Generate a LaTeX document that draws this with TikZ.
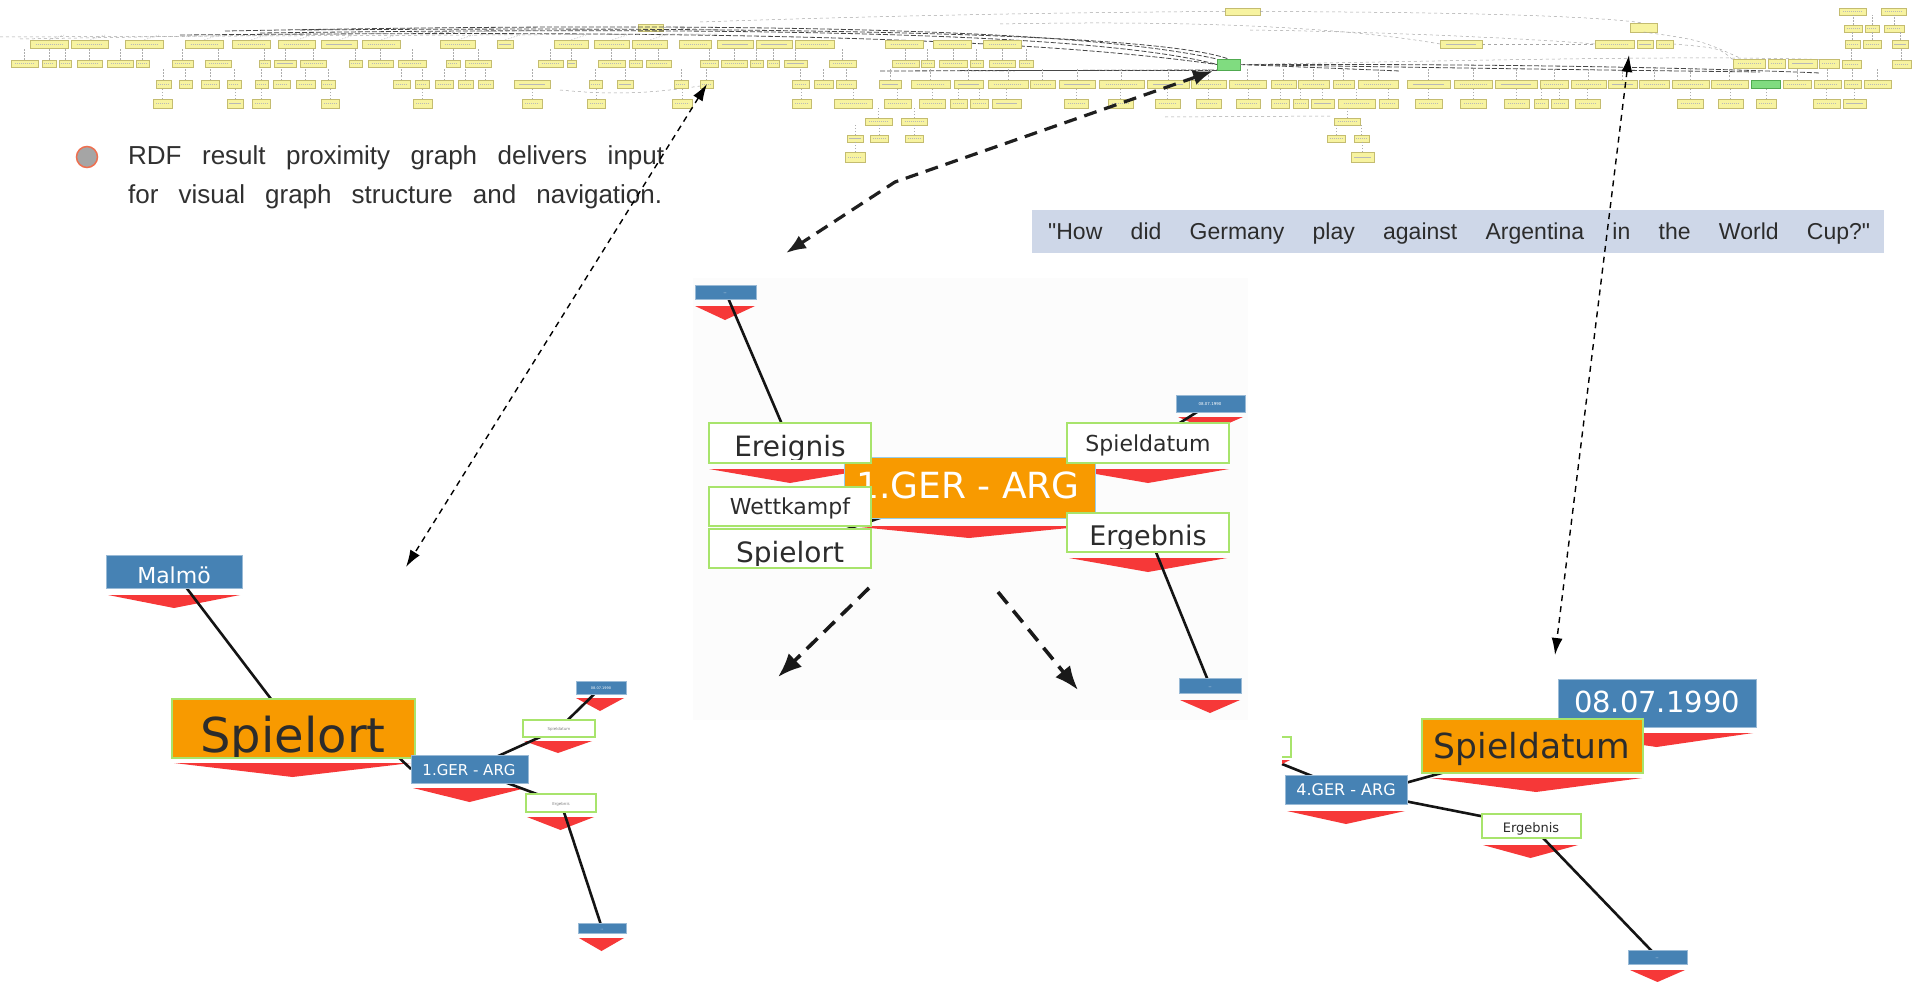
\documentclass[tikz,border=0pt]{standalone}
\usepackage{fontspec}
\setmainfont{Liberation Sans}
\newfontfamily\plainsans{Liberation Sans}
\newfontfamily\dvs{DejaVu Sans}
\usetikzlibrary{arrows.meta,calc}

\definecolor{nodeblue}{RGB}{70,130,180}
\definecolor{chevred}{RGB}{246,56,56}
\definecolor{nodeorange}{RGB}{248,154,0}
\definecolor{lgreen}{RGB}{168,228,108}
\definecolor{cyanedge}{RGB}{150,205,235}
\definecolor{qfill}{RGB}{206,215,232}
\definecolor{txt}{RGB}{44,44,44}
\definecolor{bodytxt}{RGB}{48,48,48}
\definecolor{gyel}{RGB}{247,243,160}
\definecolor{gyelb}{RGB}{196,188,112}
\definecolor{ggreen}{RGB}{128,220,128}
\definecolor{ggreenb}{RGB}{80,170,80}
\definecolor{bulletgray}{RGB}{165,165,165}
\definecolor{bulletred}{RGB}{238,112,80}
\definecolor{panel}{RGB}{252,252,252}

\pgfdeclarelayer{bg}\pgfdeclarelayer{chev}\pgfdeclarelayer{edges}
\pgfsetlayers{bg,chev,edges,main}

\tikzset{
  gbox/.style={fill=gyel, draw=gyelb, line width=0.5pt},
  gtext/.style={draw=black!28, line width=0.7pt, dash pattern=on 1.2pt off 0.8pt},
  gedge/.style={draw=black!32, line width=0.4pt, dash pattern=on 1.5pt off 1.5pt},
  gbund/.style={draw=black!72, line width=0.8pt, dash pattern=on 5pt off 2pt},
  gthin/.style={draw=black!35, line width=0.5pt, dash pattern=on 3pt off 3pt},
  plainbox/.style={inner sep=0pt, outer sep=0pt},
  bluebox/.style={plainbox, fill=nodeblue, draw=nodeblue!55!white, line width=0.7pt},
  whitebox/.style={plainbox, fill=white, draw=lgreen, line width=1.6pt},
  smallwhite/.style={plainbox, fill=white, draw=lgreen, line width=1.3pt},
  orangebox/.style={plainbox, fill=nodeorange, draw=lgreen, line width=1.3pt},
  centerbox/.style={plainbox, fill=nodeorange, draw=cyanedge, line width=0.8pt},
  greenbox/.style={plainbox, fill=ggreen, draw=ggreenb, line width=0.5pt},
  yelbox/.style={plainbox, fill=gyel, draw=gyelb, line width=0.5pt},
  link/.style={draw=black!92, line width=2.6pt},
  lbl/.style={inner sep=0pt, anchor=base},
  thinarrow/.style={{Latex[length=17pt,width=11pt]}-{Latex[length=17pt,width=11pt]},
    line width=1.4pt, dash pattern=on 6pt off 5pt},
  midarrow/.style={{Latex[length=20pt,width=15pt]}-{Latex[length=20pt,width=15pt]},
    line width=3.2pt, dash pattern=on 13pt off 8pt, draw=black!88},
  bigarrow/.style={-{Latex[length=24pt,width=19pt]},
    line width=3.6pt, dash pattern=on 15pt off 9pt, draw=black!90},
}

% box with corners (x1,y1) and (x2,y2)
\newcommand\mkbox[6]{%
  \pgfmathsetmacro\bxw{#4-#2}\pgfmathsetmacro\bxh{#5-#3}%
  \node[#6, minimum width=\bxw pt, minimum height=\bxh pt, anchor=north west] (#1) at (#2,#3) {};}
% red pointer under a box
\newcommand\chev[4]{\begin{pgfonlayer}{chev}\fill[chevred] (#1,#3) -- (#2,#3) -- ({(#1+#2)/2},#4) -- cycle;\end{pgfonlayer}}
% label whose descenders are cut off at a given height
\newcommand\btext[6]{\begin{scope}\clip (#2-400,#3-120) rectangle (#2+400,#4);
  \node[lbl, font=#5] (#1) at (#2,#3) {#6};\end{scope}}
% thumbnail box of the overview graph
\newcommand\gb[4]{\draw[gbox] (#1,#3) rectangle (#2,#4);
  \draw[gtext] ({#1+0.15*(#2-#1)},{(#3+#4)/2}) -- ({#2-0.15*(#2-#1)},{(#3+#4)/2});}
% one row of thumbnail boxes with a short link upwards
\newcommand\grrow[4]{\foreach \a/\b in {#4}{%
  \ifdim #3pt>0pt \draw[gedge] ({(\a+\b)/2},#1) -- ++(0,-#3);\fi
  \gb{\a}{\b}{#1}{#2}}}

\begin{document}
\begin{tikzpicture}[x=1pt,y=-1pt]
\useasboundingbox (0,0) rectangle (1927,982);
\begin{pgfonlayer}{bg}
  \fill[white] (0,0) rectangle (1927,982);
  \fill[panel] (693,278) rectangle (1248,720);
\end{pgfonlayer}

%% ---------------- overview graph ----------------
\mkbox{gtop}{1225}{8}{1260}{15}{yelbox}
\mkbox{gres}{1217}{59}{1240}{70}{greenbox}
\mkbox{ghub}{638}{24}{663}{31}{yelbox}
\mkbox{gside}{1630}{23}{1657}{32}{yelbox}

\draw[gbund] (225,31) .. controls (600,24) and (1050,22) .. (gres.north west);
\draw[gbund] (260,33) .. controls (650,28) and (1080,28) .. (gres.west);
\draw[gbund] (180,35) .. controls (640,31) and (1000,34) .. (gres.west);
\draw[gbund] (300,30) .. controls (700,27) and (1150,30) .. (gres.north);
\draw[gthin] (0,37) -- (720,34);
\draw[gthin] (20,39) .. controls (300,34) and (500,33) .. (ghub.west);
\draw[gbund] (880,71) -- (gres.south west);
\draw[gbund] (960,70) -- (gres.south west);
\draw[gbund] (gres.east) .. controls (1450,64) and (1650,66) .. (1820,73);
\draw[gbund] (gres.east) .. controls (1450,68) and (1600,70) .. (1760,72);
\draw[gbund] (gres.east) .. controls (1320,68) .. (1400,71);
\draw[gthin] (gres.east) .. controls (1500,60) and (1700,55) .. (1835,60);
\draw[gthin] (700,22) .. controls (900,15) and (1100,12) .. (gtop.west);
\draw[gthin] (gtop.east) .. controls (1400,12) and (1580,14) .. (gside.north);
\draw[gthin] (1000,24) .. controls (1200,20) and (1350,28) .. (1440,44);
\draw[gthin] (1250,30) .. controls (1400,32) and (1550,40) .. (1595,44);
\draw[gthin] (1482,44) -- (1595,44);
\draw[gthin] (1673,44) .. controls (1720,48) .. (1733,60);
\draw[gthin] (gside.south) .. controls (1700,40) .. (1740,58);
\draw[gthin] (ghub.east) -- (720,30);
\draw[gthin] (1165,117) -- (1330,116);
\draw[gthin] (560,90) .. controls (620,96) and (660,92) .. (700,86);
\foreach \x in {49,90,144,204,251,297,339,381,458,505,571,612,650}
  \draw[gedge] (\x,40) -- (\x+15,35);

\grrow{40}{48}{0}{30/68,71/108,125/163,185/223,232/270,278/315,321/357,362/400,440/475,497/513,554/588,594/629,632/667,679/711,717/753,756/792,795/834,885/923,933/971,983/1021,1440/1482,1595/1634,1637/1653,1656/1673}
\grrow{60}{67}{12}{11/38,42/56,59/71,77/102,107/133,136/149,172/193,205/231,259/270,274/296,300/326,349/362,368/393,398/426,446/460,465/491,538/563,567/576,598/625,629/642,646/671,700/718,721/747,750/763,767/779,784/807,829/856,892/919,921/934,939/967,970/983,989/1015,1019/1033}
\grrow{59}{68}{0}{1733/1765,1768/1785,1788/1817,1819/1839}
\grrow{80}{88}{12}{156/171,179/192,201/219,227/241,255/268,273/290,296/315,321/335,393/410,415/429,435/453,458/473,478/493,514/550,589/602,617/633,674/688,700/713,792/809,814/833,836/856,879/901,911/950,954/983,988/1028,1030/1055,1059/1095,1099/1144,1147/1189,1191/1226,1229/1266,1271/1296,1298/1329,1333/1354,1358/1398,1407/1450,1454/1492,1495/1537,1540/1568,1571/1606,1608/1637,1639/1669,1672/1709,1711/1748,1783/1811,1814/1841,1844/1861,1864/1891}
\mkbox{gres2}{1751}{80}{1780}{88}{greenbox}
\grrow{99}{108}{11}{153/172,227/243,252/270,321/339,413/432,522/542,587/605,672/692,792/811,834/872,884/911,919/945,950/967,970/988,992/1021,1064/1088,1108/1133,1155/1180,1196/1221,1236/1260,1271/1289,1293/1308,1311/1334,1338/1375,1379/1398,1415/1442,1460/1486,1504/1529,1534/1548,1551/1568,1575/1600,1677/1703,1718/1743,1756/1776,1813/1840,1843/1866}
\grrow{118}{125}{10}{865/892,901/927,1334/1360}
\grrow{135}{142}{10}{847/863,870/888,905/923,1327/1345,1354/1369}
\grrow{152}{162}{10}{845/865,1351/1374}
\grrow{8}{15}{0}{1839/1866,1881/1906}
\grrow{25}{32}{10}{1844/1862,1865/1879,1884/1904}
\grrow{40}{48}{8}{1845/1860,1863/1881,1892/1908}
\grrow{60}{68}{12}{1842/1861,1892/1911}

%% ---------------- caption and question ----------------
\node[circle, fill=bulletgray, draw=bulletred, line width=1.5pt, minimum size=21pt, inner sep=0pt] (bullet) at (87,157) {};
\node[inner sep=0pt, anchor=base west, text=bodytxt, font=\fontsize{26}{30}\selectfont] (line1) at (128,164)
  {\makebox[536pt][s]{RDF result proximity graph delivers input}};
\node[inner sep=0pt, anchor=base west, text=bodytxt, font=\fontsize{26}{30}\selectfont] (line2) at (128,203)
  {\makebox[534pt][s]{for visual graph structure and navigation.}};

\mkbox{qbox}{1032}{210}{1884}{253}{plainbox, fill=qfill}
\node[inner sep=0pt, anchor=base west, text=txt, font=\plainsans\fontsize{23}{27}\selectfont] (qtext) at (1048,239)
  {\makebox[822pt][s]{"How did Germany play against Argentina in the World Cup?"}};

%% ---------------- central cluster ----------------
\mkbox{cger}{844}{457}{1095}{518}{centerbox}
\chev{850}{1088}{526}{538}
\node[lbl, text=white, font={\dvs\fontsize{36}{40}\selectfont}] (cger-t) at (968,498) {1.GER - ARG};

\mkbox{ctop}{695}{285}{756}{299}{bluebox}
\chev{695}{755}{306}{320}
\node[lbl, text=white, font={\dvs\fontsize{4}{5}\selectfont}] (ctop-t) at (725,294) {--};
\mkbox{cdate}{1176}{395}{1245}{412}{bluebox}
\chev{1178}{1243}{417}{431}
\node[lbl, text=white, font={\dvs\fontsize{4}{5}\selectfont}] (cdate-t) at (1210,405) {08.07.1990};

\mkbox{cereig}{709}{423}{871}{463}{whitebox}
\chev{709}{871}{469}{483}
\btext{cereig-t}{790}{456}{459.5}{{\dvs\fontsize{28}{32}\selectfont}}{\textcolor{txt}{Ereignis}}
\mkbox{cwett}{709}{487}{871}{526}{whitebox}
\node[lbl, text=txt, font={\dvs\fontsize{22}{26}\selectfont}] (cwett-t) at (790,514) {Wettkampf};
\mkbox{cspiel}{709}{529}{871}{568}{whitebox}
\btext{cspiel-t}{790}{562}{565}{{\dvs\fontsize{28}{32}\selectfont}}{\textcolor{txt}{Spielort}}
\mkbox{cspdat}{1067}{423}{1229}{463}{whitebox}
\chev{1067}{1229}{469}{483}
\node[lbl, text=txt, font={\dvs\fontsize{22}{26}\selectfont}] (cspdat-t) at (1148,451) {Spieldatum};
\mkbox{cerg}{1067}{513}{1229}{552}{whitebox}
\chev{1069}{1227}{558}{572}
\btext{cerg-t}{1148}{545}{548.5}{{\dvs\fontsize{27}{31}\selectfont}}{\textcolor{txt}{Ergebnis}}
\mkbox{cbot}{1179}{678}{1241}{693}{bluebox}
\chev{1180}{1240}{700}{713}
\node[lbl, text=white, font={\dvs\fontsize{4}{5}\selectfont}] (cbot-t) at (1210,688) {--};

\begin{pgfonlayer}{edges}
  \draw[link] (cger.center) -- (cereig.center);
  \draw[link] (cger.center) -- (cwett.center);
  \draw[link] (cger.center) -- (cspiel.center);
  \draw[link] (cger.center) -- (cspdat.center);
  \draw[link] (cger.center) -- (cerg.center);
  \draw[link] (cereig.center) -- (ctop.center);
  \draw[link] (cspdat.center) -- (cdate.center);
  \draw[link] (cerg.center) -- (cbot.center);
\end{pgfonlayer}

%% ---------------- left cluster ----------------
\mkbox{lmal}{106}{555}{242}{588}{bluebox}
\chev{108}{240}{595}{608}
\node[lbl, text=white, font={\dvs\fontsize{22}{26}\selectfont}] (lmal-t) at (174,583) {Malmö};
\mkbox{lsp}{172}{699}{415}{758}{orangebox}
\chev{174}{411}{763}{777}
\btext{lsp-t}{293}{752}{756}{{\dvs\fontsize{48}{52}\selectfont}}{\textcolor{txt}{Spielort}}
\mkbox{lger}{411}{755}{528}{783}{bluebox}
\chev{413}{526}{788}{802}
\node[lbl, text=white, font={\dvs\fontsize{15}{18}\selectfont}] (lger-t) at (469,775) {1.GER - ARG};
\mkbox{ltop}{576}{681}{626}{694}{bluebox}
\chev{576}{624}{698}{711}
\node[lbl, text=white, font={\dvs\fontsize{3.5}{4}\selectfont}] (ltop-t) at (601,689) {08.07.1990};
\mkbox{lsd}{523}{720}{595}{737}{smallwhite}
\chev{524}{592}{741}{753}
\node[lbl, text=black!50, font={\dvs\fontsize{4}{5}\selectfont}] (lsd-t) at (559,730) {Spieldatum};
\mkbox{lerg}{526}{794}{596}{812}{smallwhite}
\chev{527}{594}{817}{830}
\node[lbl, text=black!50, font={\dvs\fontsize{4}{5}\selectfont}] (lerg-t) at (561,805) {Ergebnis};
\mkbox{lbot}{578}{923}{626}{933}{bluebox}
\chev{579}{624}{938}{951}
\node[lbl, text=white, font={\dvs\fontsize{3.5}{4}\selectfont}] (lbot-t) at (602,930) {--};

\begin{pgfonlayer}{edges}
  \draw[link] (lmal.center) -- (lsp.center);
  \draw[link] ([xshift=-22pt,yshift=6pt]lsp.south east) -- (lger.west);
  \draw[link] (lger.center) -- (lsd.center);
  \draw[link] (lsd.center) -- (ltop.center);
  \draw[link] (lger.center) -- (lerg.center);
  \draw[link] (lerg.center) -- (lbot.center);
\end{pgfonlayer}

%% ---------------- right cluster ----------------
\mkbox{rdate}{1558}{679}{1756}{727}{bluebox}
\chev{1560}{1753}{733}{747}
\node[lbl, text=white, font={\dvs\fontsize{29}{33}\selectfont}] (rdate-t) at (1657,712) {08.07.1990};
\mkbox{rsd}{1422}{719}{1643}{773}{orangebox}
\chev{1430}{1642}{778}{792}
\node[lbl, text=txt, font={\dvs\fontsize{34.5}{38}\selectfont}] (rsd-t) at (1532,758) {Spieldatum};
\mkbox{rger}{1285}{775}{1407}{804}{bluebox}
\chev{1287}{1405}{811}{824}
\node[lbl, text=white, font={\dvs\fontsize{16}{19}\selectfont}] (rger-t) at (1346,795) {4.GER - ARG};
\mkbox{rerg}{1482}{814}{1581}{838}{smallwhite}
\chev{1483}{1578}{845}{858}
\btext{rerg-t}{1531}{832}{834.5}{{\dvs\fontsize{13}{16}\selectfont}}{\textcolor{txt}{Ergebnis}}
\mkbox{rbot}{1628}{950}{1687}{964}{bluebox}
\chev{1630}{1685}{970}{982}
\node[lbl, text=white, font={\dvs\fontsize{4}{5}\selectfont}] (rbot-t) at (1657,959) {--};
% node cut off at the left border of the view
\fill[white] (1282,737) rectangle (1291,757);
\draw[draw=lgreen, line width=1.3pt] (1282,737) -- (1291,737) -- (1291,757) -- (1282,757);
\fill[chevred] (1282,760) -- (1290,760) -- (1282,764) -- cycle;
\coordinate (redge) at (1282,764);

\begin{pgfonlayer}{edges}
  \draw[link] (redge) -- (rger.center);
  \draw[link] ([yshift=7pt]rger.east) -- ([xshift=-80pt,yshift=3pt]rsd.south);
  \draw[link] (rsd.center) -- (rdate.center);
  \draw[link] (rger.center) -- (rerg.center);
  \draw[link] (rerg.center) -- (rbot.center);
\end{pgfonlayer}

%% ---------------- navigation arrows ----------------
\coordinate (a1top) at (707,84);
\coordinate (a1bot) at (406,567);
\draw[thinarrow] (a1top) -- (a1bot);
\coordinate (a2top) at (1213,71);
\coordinate (a2mid) at (895,182);
\coordinate (a2bot) at (786,253);
\draw[midarrow] (a2top) -- (a2mid) -- (a2bot);
\coordinate (a3top) at (1629,55);
\coordinate (a3bot) at (1555,655);
\draw[thinarrow] (a3top) -- (a3bot);
\coordinate (ca1s) at (869,588);
\coordinate (ca1e) at (778,677);
\draw[bigarrow] (ca1s) -- (ca1e);
\coordinate (ca2s) at (998,592);
\coordinate (ca2e) at (1078,690);
\draw[bigarrow] (ca2s) -- (ca2e);
\end{tikzpicture}
\end{document}
